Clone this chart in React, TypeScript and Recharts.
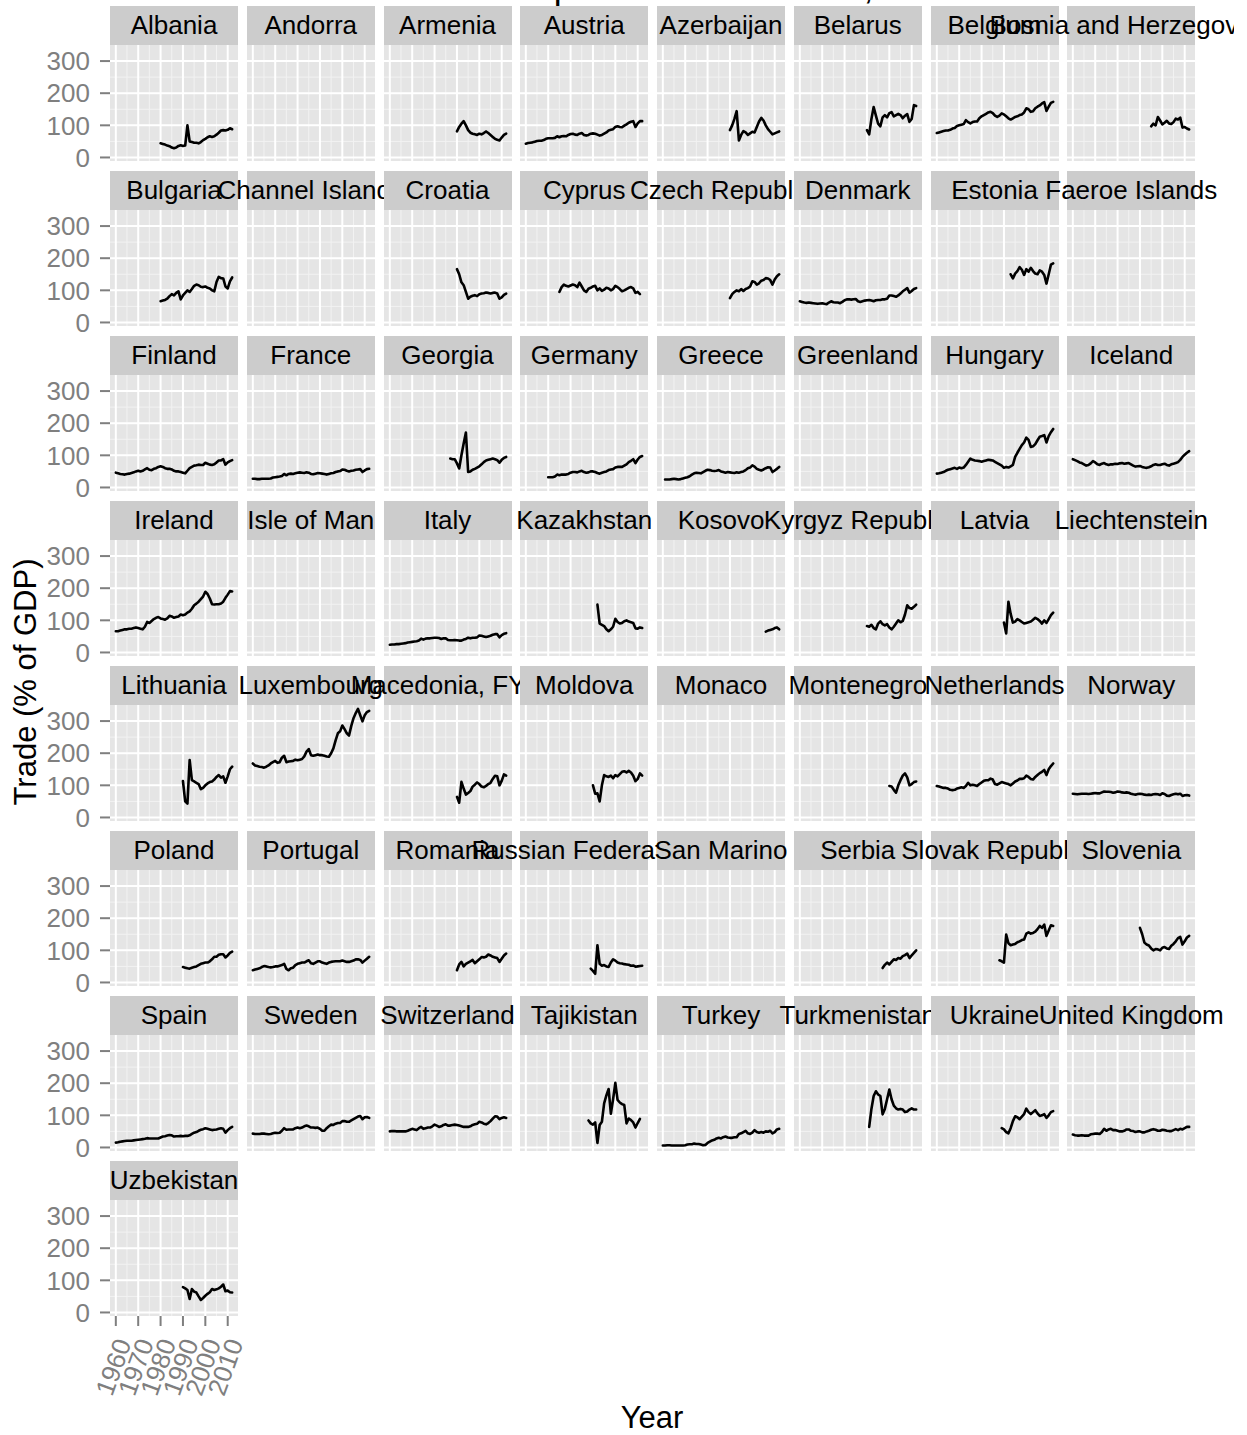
import React from 'react';
import { LineChart, Line, XAxis, YAxis, CartesianGrid } from 'recharts';

// trade as % of GDP, one series per country: first year + yearly values
type Series = { from: number; v: number[] };

const albania: Series = { from: 1980, v: [44, 42, 40, 37, 35, 31, 29, 31, 36, 38, 36, 37, 100, 50, 48, 46, 46, 44, 48, 54, 58, 63, 66, 64, 66, 71, 77, 84, 85, 84, 86, 91, 88] };
const armenia: Series = { from: 1990, v: [81, 95, 105, 113, 100, 85, 77, 74, 72, 70, 74, 72, 76, 81, 76, 70, 64, 58, 55, 53, 62, 70, 74] };
const austria: Series = { from: 1960, v: [43, 45, 46, 47, 49, 51, 52, 52, 54, 58, 60, 60, 60, 61, 66, 63, 66, 67, 66, 70, 73, 74, 71, 70, 74, 76, 70, 68, 70, 74, 75, 74, 71, 68, 70, 74, 78, 84, 86, 88, 95, 97, 95, 94, 99, 103, 108, 111, 113, 95, 106, 113, 113] };
const azerbaijan: Series = { from: 1990, v: [85, 100, 120, 144, 53, 70, 82, 78, 70, 75, 80, 78, 95, 112, 123, 115, 100, 88, 80, 72, 75, 78, 81] };
const belarus: Series = { from: 1990, v: [85, 72, 120, 157, 130, 105, 97, 125, 132, 125, 138, 141, 128, 132, 136, 132, 122, 130, 135, 111, 120, 163, 160] };
const belgium: Series = { from: 1960, v: [76, 78, 80, 82, 84, 84, 86, 90, 92, 98, 100, 102, 104, 116, 110, 106, 110, 112, 112, 122, 128, 132, 136, 140, 142, 138, 130, 126, 130, 137, 134, 128, 122, 118, 122, 126, 128, 132, 134, 140, 153, 150, 142, 144, 153, 158, 162, 168, 172, 145, 158, 170, 173] };
const bosnia: Series = { from: 1995, v: [97, 105, 100, 126, 115, 103, 108, 114, 106, 104, 110, 121, 118, 124, 93, 95, 90, 87] };

const bulgaria: Series = { from: 1980, v: [66, 68, 70, 74, 82, 88, 84, 92, 97, 72, 84, 92, 100, 95, 104, 114, 118, 116, 111, 110, 112, 108, 106, 100, 97, 126, 142, 138, 137, 112, 106, 128, 140] };
const croatia: Series = { from: 1990, v: [166, 150, 125, 116, 95, 74, 80, 83, 85, 82, 88, 90, 91, 93, 92, 90, 92, 93, 90, 74, 78, 86, 90] };
const cyprus: Series = { from: 1975, v: [95, 110, 118, 114, 112, 115, 118, 116, 110, 124, 112, 100, 95, 105, 108, 112, 114, 100, 106, 98, 102, 108, 106, 100, 104, 114, 110, 104, 97, 100, 104, 108, 110, 106, 92, 95, 88] };
const czech: Series = { from: 1990, v: [76, 88, 95, 100, 97, 104, 98, 104, 107, 112, 128, 126, 118, 122, 130, 132, 138, 137, 132, 118, 134, 144, 150] };
const denmark: Series = { from: 1960, v: [66, 64, 62, 61, 62, 61, 60, 59, 58, 59, 60, 58, 57, 62, 66, 63, 62, 62, 60, 64, 69, 72, 72, 71, 72, 73, 66, 64, 66, 68, 69, 70, 68, 66, 69, 70, 70, 72, 72, 74, 84, 84, 82, 80, 84, 90, 97, 102, 107, 93, 98, 104, 107] };
const estonia: Series = { from: 1993, v: [150, 137, 152, 160, 172, 164, 148, 166, 158, 170, 160, 152, 150, 162, 158, 148, 121, 150, 180, 184] };

const finland: Series = { from: 1960, v: [46, 44, 42, 41, 40, 42, 43, 45, 47, 50, 52, 50, 52, 56, 60, 55, 54, 58, 60, 64, 66, 64, 60, 58, 58, 56, 52, 50, 50, 48, 46, 44, 52, 60, 64, 68, 69, 71, 70, 70, 77, 74, 71, 70, 72, 78, 84, 84, 88, 71, 78, 82, 85] };
const france: Series = { from: 1960, v: [27, 27, 26, 26, 27, 27, 27, 27, 28, 31, 32, 33, 34, 36, 42, 38, 42, 43, 42, 44, 46, 47, 46, 45, 47, 46, 42, 41, 43, 45, 44, 43, 42, 40, 42, 44, 45, 48, 50, 51, 56, 55, 52, 50, 52, 53, 55, 56, 57, 48, 53, 57, 58] };
const georgia: Series = { from: 1987, v: [90, 88, 88, 75, 59, 100, 137, 171, 48, 50, 55, 58, 62, 66, 72, 79, 84, 86, 88, 90, 88, 85, 77, 86, 92, 95] };
const germany: Series = { from: 1970, v: [32, 32, 32, 34, 40, 38, 40, 40, 40, 42, 46, 48, 48, 47, 50, 52, 48, 46, 47, 50, 50, 48, 45, 43, 46, 48, 50, 54, 56, 57, 62, 64, 64, 64, 68, 72, 79, 83, 88, 76, 87, 95, 98] };
const greece: Series = { from: 1961, v: [25, 25, 25, 26, 27, 26, 25, 26, 28, 30, 32, 35, 40, 44, 46, 45, 44, 48, 52, 55, 54, 52, 51, 52, 54, 50, 48, 46, 48, 47, 46, 45, 47, 46, 48, 50, 54, 60, 62, 69, 65, 58, 55, 53, 56, 60, 63, 62, 48, 53, 58, 64] };
const hungary: Series = { from: 1960, v: [43, 44, 46, 48, 52, 55, 57, 59, 61, 58, 62, 60, 62, 70, 80, 90, 86, 84, 83, 82, 80, 82, 84, 86, 85, 84, 80, 76, 72, 68, 61, 64, 62, 66, 70, 95, 108, 120, 132, 140, 155, 148, 126, 128, 135, 147, 158, 160, 163, 140, 160, 172, 182] };
const iceland: Series = { from: 1960, v: [88, 85, 82, 78, 76, 72, 68, 70, 75, 82, 78, 72, 70, 74, 76, 72, 70, 72, 72, 74, 73, 75, 76, 74, 75, 76, 72, 68, 65, 66, 67, 64, 62, 61, 63, 66, 70, 72, 70, 70, 72, 74, 70, 68, 72, 74, 76, 79, 86, 95, 102, 108, 113] };

const ireland: Series = { from: 1960, v: [66, 66, 68, 70, 72, 72, 74, 74, 76, 78, 76, 74, 72, 80, 95, 92, 98, 104, 108, 110, 106, 104, 102, 106, 114, 112, 108, 110, 112, 118, 116, 118, 124, 128, 136, 147, 152, 158, 166, 174, 189, 182, 168, 150, 149, 150, 150, 152, 158, 170, 180, 191, 190] };
const italy: Series = { from: 1960, v: [24, 25, 25, 26, 26, 27, 28, 29, 31, 32, 33, 34, 35, 37, 43, 40, 43, 44, 44, 45, 46, 46, 45, 42, 44, 44, 39, 38, 38, 39, 38, 37, 37, 40, 42, 46, 44, 46, 46, 47, 53, 52, 50, 48, 50, 52, 55, 57, 57, 47, 54, 58, 60] };
const kazakhstan: Series = { from: 1992, v: [149, 90, 86, 82, 72, 66, 72, 80, 105, 95, 90, 92, 97, 100, 96, 94, 92, 75, 74, 78, 76] };
const kosovo: Series = { from: 2006, v: [65, 68, 70, 72, 76, 78, 72] };
const kyrgyz: Series = { from: 1990, v: [82, 80, 86, 76, 72, 90, 97, 88, 84, 88, 78, 72, 80, 90, 100, 94, 98, 118, 147, 138, 136, 142, 149] };
const latvia: Series = { from: 1990, v: [93, 59, 158, 120, 93, 96, 104, 100, 95, 90, 92, 94, 96, 102, 108, 104, 98, 90, 100, 92, 104, 116, 124] };

const lithuania: Series = { from: 1990, v: [113, 50, 43, 179, 116, 112, 108, 104, 88, 92, 100, 106, 110, 112, 118, 126, 132, 124, 128, 108, 128, 150, 158] };
const luxembourg: Series = { from: 1960, v: [168, 162, 160, 158, 157, 155, 158, 162, 168, 172, 176, 170, 172, 186, 192, 172, 174, 175, 176, 180, 178, 180, 182, 190, 205, 213, 194, 192, 194, 196, 194, 194, 192, 190, 189, 200, 215, 240, 262, 268, 286, 275, 262, 255, 285, 309, 325, 338, 318, 299, 318, 328, 332] };
const macedonia: Series = { from: 1990, v: [64, 46, 111, 90, 71, 76, 82, 96, 102, 109, 104, 96, 94, 98, 104, 108, 120, 130, 128, 100, 114, 134, 130] };
const moldova: Series = { from: 1990, v: [100, 74, 75, 50, 100, 132, 128, 126, 130, 122, 132, 128, 135, 142, 144, 140, 145, 140, 130, 113, 120, 137, 130] };
const montenegro: Series = { from: 2000, v: [98, 96, 86, 77, 100, 116, 130, 137, 125, 100, 104, 110, 112] };
const netherlands: Series = { from: 1960, v: [98, 96, 94, 92, 92, 90, 86, 85, 86, 90, 92, 94, 92, 98, 108, 100, 102, 100, 98, 104, 109, 114, 116, 116, 121, 118, 104, 102, 106, 110, 108, 106, 104, 100, 106, 112, 115, 120, 120, 122, 130, 126, 120, 118, 126, 132, 138, 142, 148, 132, 150, 160, 168] };
const norway: Series = { from: 1960, v: [74, 73, 72, 73, 74, 74, 74, 73, 74, 75, 76, 75, 75, 78, 81, 80, 80, 79, 77, 78, 81, 80, 78, 77, 78, 77, 74, 72, 71, 73, 74, 73, 71, 70, 71, 70, 72, 73, 72, 70, 75, 73, 68, 67, 70, 72, 74, 72, 74, 67, 69, 70, 68] };

const poland: Series = { from: 1990, v: [48, 46, 44, 43, 46, 48, 50, 54, 58, 60, 62, 62, 66, 72, 80, 80, 86, 88, 88, 78, 84, 92, 96] };
const portugal: Series = { from: 1960, v: [38, 40, 42, 44, 48, 51, 50, 48, 47, 48, 50, 50, 52, 54, 58, 42, 38, 44, 46, 54, 58, 60, 62, 62, 66, 69, 60, 58, 62, 66, 66, 62, 60, 58, 62, 64, 65, 66, 66, 66, 68, 66, 64, 64, 66, 68, 72, 72, 70, 62, 68, 74, 80] };
const romania: Series = { from: 1990, v: [38, 56, 64, 50, 58, 62, 66, 70, 60, 66, 72, 79, 78, 80, 87, 84, 80, 78, 76, 64, 74, 84, 90] };
const russia: Series = { from: 1989, v: [43, 36, 27, 116, 58, 52, 54, 50, 48, 62, 72, 68, 62, 60, 59, 57, 56, 55, 52, 53, 49, 50, 51, 52] };
const serbia: Series = { from: 1997, v: [45, 55, 62, 56, 64, 72, 70, 76, 74, 82, 85, 90, 76, 84, 92, 100] };
const slovakia: Series = { from: 1988, v: [69, 66, 62, 149, 122, 116, 118, 120, 125, 128, 132, 134, 152, 156, 152, 154, 158, 166, 176, 170, 180, 145, 162, 178, 176] };
const slovenia: Series = { from: 1990, v: [170, 150, 124, 118, 115, 106, 100, 104, 103, 100, 108, 110, 106, 104, 114, 120, 128, 138, 142, 118, 128, 140, 145] };

const spain: Series = { from: 1960, v: [15, 16, 18, 19, 20, 21, 21, 21, 22, 23, 24, 25, 26, 27, 29, 28, 28, 28, 28, 28, 31, 34, 35, 37, 39, 38, 34, 35, 35, 36, 35, 36, 36, 38, 42, 46, 48, 52, 55, 57, 60, 58, 56, 54, 55, 56, 58, 60, 58, 46, 54, 60, 64] };
const sweden: Series = { from: 1960, v: [43, 42, 42, 42, 43, 43, 42, 41, 42, 44, 46, 45, 46, 52, 60, 55, 56, 56, 56, 60, 62, 60, 62, 66, 68, 66, 62, 62, 61, 62, 58, 52, 52, 60, 66, 71, 70, 74, 76, 76, 82, 82, 80, 80, 84, 88, 92, 96, 98, 88, 94, 95, 92] };
const switzerland: Series = { from: 1960, v: [50, 51, 51, 50, 50, 50, 50, 50, 52, 55, 58, 56, 54, 60, 64, 58, 60, 62, 62, 66, 71, 68, 64, 66, 70, 72, 68, 68, 70, 71, 70, 68, 66, 64, 64, 64, 66, 70, 72, 74, 80, 78, 74, 72, 76, 82, 90, 97, 96, 88, 92, 94, 92] };
const tajikistan: Series = { from: 1988, v: [84, 75, 71, 78, 14, 70, 80, 137, 162, 182, 105, 150, 201, 148, 140, 135, 132, 75, 90, 85, 78, 62, 76, 89] };
const turkey: Series = { from: 1960, v: [6, 6, 7, 7, 6, 6, 6, 6, 6, 6, 7, 9, 10, 10, 12, 11, 11, 9, 7, 8, 14, 18, 22, 24, 28, 30, 28, 32, 34, 31, 30, 30, 32, 32, 42, 44, 48, 52, 44, 42, 46, 54, 48, 46, 48, 46, 50, 49, 52, 44, 48, 56, 58] };
const turkmenistan: Series = { from: 1991, v: [64, 120, 160, 175, 165, 160, 103, 120, 150, 180, 150, 130, 122, 118, 120, 118, 110, 112, 118, 122, 118, 118] };
const ukraine: Series = { from: 1989, v: [60, 56, 48, 44, 60, 82, 97, 94, 88, 96, 104, 121, 110, 104, 110, 116, 106, 98, 100, 104, 92, 100, 110, 113] };
const uk: Series = { from: 1960, v: [40, 38, 37, 37, 38, 37, 37, 37, 41, 42, 43, 43, 42, 48, 58, 52, 56, 58, 54, 54, 52, 50, 50, 52, 56, 56, 52, 51, 48, 50, 50, 47, 47, 50, 52, 55, 57, 55, 52, 52, 55, 54, 52, 51, 51, 54, 57, 54, 58, 56, 60, 64, 64] };

const uzbekistan: Series = { from: 1990, v: [79, 75, 70, 42, 73, 65, 62, 50, 39, 45, 52, 58, 63, 73, 70, 72, 75, 80, 87, 66, 68, 63, 62] };

// facet order (facet_wrap, 8 columns)
const panels: [string, Series | null][] = [
  ['Albania', albania], ['Andorra', null], ['Armenia', armenia], ['Austria', austria],
  ['Azerbaijan', azerbaijan], ['Belarus', belarus], ['Belgium', belgium], ['Bosnia and Herzegovina', bosnia],
  ['Bulgaria', bulgaria], ['Channel Islands', null], ['Croatia', croatia], ['Cyprus', cyprus],
  ['Czech Republic', czech], ['Denmark', denmark], ['Estonia', estonia], ['Faeroe Islands', null],
  ['Finland', finland], ['France', france], ['Georgia', georgia], ['Germany', germany],
  ['Greece', greece], ['Greenland', null], ['Hungary', hungary], ['Iceland', iceland],
  ['Ireland', ireland], ['Isle of Man', null], ['Italy', italy], ['Kazakhstan', kazakhstan],
  ['Kosovo', kosovo], ['Kyrgyz Republic', kyrgyz], ['Latvia', latvia], ['Liechtenstein', null],
  ['Lithuania', lithuania], ['Luxembourg', luxembourg], ['Macedonia, FYR', macedonia], ['Moldova', moldova],
  ['Monaco', null], ['Montenegro', montenegro], ['Netherlands', netherlands], ['Norway', norway],
  ['Poland', poland], ['Portugal', portugal], ['Romania', romania], ['Russian Federation', russia],
  ['San Marino', null], ['Serbia', serbia], ['Slovak Republic', slovakia], ['Slovenia', slovenia],
  ['Spain', spain], ['Sweden', sweden], ['Switzerland', switzerland], ['Tajikistan', tajikistan],
  ['Turkey', turkey], ['Turkmenistan', turkmenistan], ['Ukraine', ukraine], ['United Kingdom', uk],
  ['Uzbekistan', uzbekistan],
];

const yearTicks = [1960, 1970, 1980, 1990, 2000, 2010];
const yearMinor = [1965, 1975, 1985, 1995, 2005];
const valueTicks = [0, 100, 200, 300];
const valueMinor = [50, 150, 250];

const YEAR_DOMAIN: [number, number] = [1957.4, 2014.6];
const VALUE_DOMAIN: [number, number] = [-11, 350];

const NCOL = 8;
const LEFT = 110;
const TOP = 6;
const COL_STEP = 136.75;
const ROW_STEP = 165;
const PANEL_W = 128;
const PANEL_H = 116;
const STRIP_H = 39;
const AXIS_W = 80;
const AXIS_H = 100;
const GREY = '#7f7f7f';
const FONT = '"Liberation Sans", Arial, Helvetica, sans-serif';

const lastRow = Math.floor((panels.length - 1) / NCOL);

const YearTick = (props: any) => {
  const { x, y, payload } = props;
  const ax = x + 16;
  const ay = y + 17;
  return (
    <text x={ax} y={ay} transform={`rotate(-70 ${ax} ${ay})`} textAnchor="end" fill={GREY} fontSize={26}>
      {payload.value}
    </text>
  );
};

function Panel({ series, col, row }: { series: Series | null; col: number; row: number }) {
  const showY = col === 0;
  const showX = row === lastRow;
  const data = series
    ? series.v.map((value, i) => ({ year: series.from + i, value }))
    : [{ year: 1960 }, { year: 2012 }];
  const left = LEFT + col * COL_STEP - (showY ? AXIS_W : 0);
  const top = TOP + row * ROW_STEP + STRIP_H;
  return (
    <div style={{ position: 'absolute', left, top }}>
      <LineChart
        width={PANEL_W + (showY ? AXIS_W : 0)}
        height={PANEL_H + (showX ? AXIS_H : 0)}
        data={data}
        margin={{ top: 0, right: 0, bottom: 0, left: 0 }}
      >
        <CartesianGrid fill="#e5e5e5" stroke="#f2f2f2" strokeWidth={1} horizontalValues={valueMinor} verticalValues={yearMinor} />
        <CartesianGrid stroke="#ffffff" strokeWidth={2} horizontalValues={valueTicks} verticalValues={yearTicks} />
        <XAxis
          type="number"
          dataKey="year"
          domain={YEAR_DOMAIN}
          allowDataOverflow
          hide={!showX}
          ticks={yearTicks}
          interval={0}
          height={AXIS_H}
          tickSize={10}
          tickMargin={0}
          axisLine={false}
          tickLine={{ stroke: GREY, strokeWidth: 2 }}
          tick={<YearTick />}
        />
        <YAxis
          type="number"
          domain={VALUE_DOMAIN}
          allowDataOverflow
          hide={!showY}
          ticks={valueTicks}
          interval={0}
          width={AXIS_W}
          tickSize={10}
          tickMargin={10}
          axisLine={false}
          tickLine={{ stroke: GREY, strokeWidth: 2 }}
          tick={{ fill: GREY, fontSize: 26 }}
        />
        {series && (
          <Line
            type="linear"
            dataKey="value"
            stroke="#000000"
            strokeWidth={2.6}
            strokeLinejoin="round"
            strokeLinecap="round"
            dot={false}
            isAnimationActive={false}
          />
        )}
      </LineChart>
    </div>
  );
}

export default function App() {
  return (
    <div
      style={{
        position: 'absolute', left: 0, top: 0, width: 1247, height: 1435,
        background: '#ffffff', overflow: 'hidden', fontFamily: FONT,
      }}
    >
      <style>{'.recharts-surface { overflow: visible; }'}</style>
      <svg width={1247} height={1435} style={{ position: 'absolute', left: 0, top: 0 }}>
        <text x={340} y={-1.5} fontSize={35.5} fill="#000">Trade in Europe and Central Asia, 1960-2012</text>
        <text x={36} y={682} fontSize={31} fill="#000" textAnchor="middle" transform="rotate(-90 36 682)">
          Trade (% of GDP)
        </text>
        <text x={652} y={1428} fontSize={31} fill="#000" textAnchor="middle">Year</text>
      </svg>

      {panels.map(([name, series], i) => (
        <Panel key={name} series={series} col={i % NCOL} row={Math.floor(i / NCOL)} />
      ))}

      {/* strips drawn in order, so each one covers the overflow of the one before */}
      <div style={{ position: 'absolute', left: 0, top: 0, width: 1234, height: 1435, overflow: 'hidden' }}>
        {panels.map(([name], i) => (
          <div
            key={name}
            style={{
              position: 'absolute',
              left: LEFT + (i % NCOL) * COL_STEP,
              top: TOP + Math.floor(i / NCOL) * ROW_STEP,
              width: PANEL_W,
              height: STRIP_H,
              background: '#cccccc',
              display: 'flex',
              justifyContent: 'center',
              alignItems: 'center',
              fontSize: 26,
              whiteSpace: 'nowrap',
              color: '#000',
            }}
          >
            <span>{name}</span>
          </div>
        ))}
      </div>
    </div>
  );
}
